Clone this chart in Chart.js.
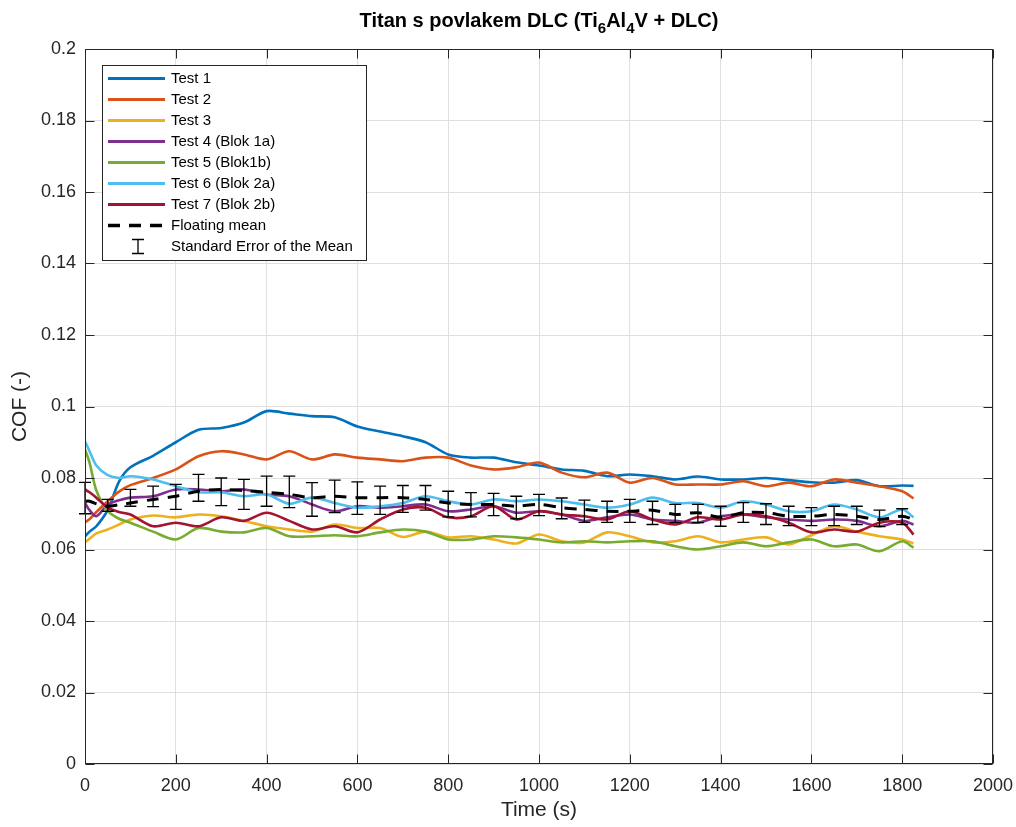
<!DOCTYPE html>
<html>
<head>
<meta charset="utf-8">
<script src="https://cdn.jsdelivr.net/npm/chart.js@4.4.1/dist/chart.umd.min.js"></script>
<style>
html,body{margin:0;padding:0;background:#fff;}
#wrap{width:1016px;height:827px;position:relative;}
</style>
</head>
<body>
<div id="wrap"><canvas id="c" width="1016" height="827"></canvas></div>
<script>
// ---- data ----
const time = [0,10,25,50,75,100,150,200,250,300,350,400,450,500,550,600,650,700,750,800,850,900,950,1000,1050,1100,1150,1200,1250,1300,1350,1400,1450,1500,1550,1600,1650,1700,1750,1800,1825];

const test1 = [0.0637,0.065,0.0665,0.071,0.079,0.083,0.0862,0.090,0.0935,0.094,0.0955,0.0987,0.098,0.0973,0.097,0.0944,0.093,0.0917,0.090,0.0866,0.0857,0.0857,0.0844,0.0835,0.0824,0.082,0.0805,0.081,0.0805,0.0796,0.0804,0.0796,0.0796,0.080,0.0794,0.0788,0.0787,0.0794,0.0777,0.0779,0.0778];
const test2 = [0.0676,0.0685,0.0705,0.0735,0.0762,0.078,0.080,0.0824,0.0861,0.0875,0.0866,0.0852,0.0875,0.0852,0.0866,0.0857,0.0852,0.0847,0.0857,0.0857,0.0835,0.0824,0.083,0.0843,0.0815,0.0802,0.0815,0.0787,0.080,0.0782,0.0782,0.0782,0.0791,0.0777,0.0787,0.0777,0.0796,0.0787,0.0777,0.0763,0.0743];
const test3 = [0.062,0.063,0.0645,0.0656,0.067,0.0684,0.0695,0.069,0.0698,0.0693,0.068,0.0665,0.0656,0.065,0.067,0.066,0.066,0.0635,0.065,0.0634,0.0637,0.0628,0.0617,0.0642,0.0623,0.062,0.0648,0.0637,0.062,0.0623,0.0637,0.062,0.0628,0.0634,0.0614,0.064,0.0665,0.065,0.0637,0.0628,0.0617];
const test4 = [0.073,0.071,0.0693,0.0726,0.0738,0.0745,0.0749,0.0768,0.0768,0.0763,0.0768,0.0754,0.0749,0.0726,0.0707,0.0721,0.0717,0.0721,0.0726,0.0707,0.0712,0.0721,0.0703,0.0707,0.0698,0.068,0.069,0.0698,0.0684,0.068,0.0675,0.0693,0.0698,0.069,0.0684,0.068,0.0684,0.068,0.0665,0.068,0.067];
const test5 = [0.088,0.0843,0.0765,0.0708,0.0686,0.0675,0.065,0.0628,0.066,0.065,0.0648,0.066,0.0637,0.0637,0.064,0.0637,0.0648,0.0656,0.065,0.0628,0.0628,0.0637,0.0634,0.0628,0.062,0.0623,0.062,0.0623,0.0623,0.0609,0.060,0.0609,0.062,0.0609,0.062,0.0628,0.0609,0.0614,0.0595,0.0623,0.0605];
const test6 = [0.0903,0.0875,0.0835,0.0808,0.080,0.0805,0.0796,0.0777,0.076,0.076,0.0749,0.0754,0.0728,0.0745,0.073,0.0717,0.0721,0.073,0.0749,0.0735,0.0726,0.074,0.0735,0.074,0.0735,0.0726,0.0717,0.0726,0.0745,0.073,0.073,0.0717,0.0735,0.0726,0.0707,0.0707,0.0726,0.0712,0.069,0.0712,0.069];
const test7 = [0.0768,0.076,0.0745,0.0717,0.0705,0.0698,0.0665,0.0675,0.0665,0.069,0.068,0.0703,0.068,0.0656,0.0665,0.0648,0.0684,0.0712,0.0717,0.069,0.0693,0.0721,0.0684,0.0707,0.0698,0.0693,0.0684,0.0707,0.0684,0.067,0.069,0.0684,0.0698,0.0693,0.0675,0.0648,0.0656,0.065,0.0675,0.0675,0.0642];
const floatingMean = [0.0735,0.0735,0.0728,0.0721,0.0725,0.073,0.074,0.0749,0.0763,0.0768,0.0765,0.076,0.0754,0.0745,0.0749,0.0745,0.0745,0.0745,0.074,0.073,0.0726,0.0726,0.0721,0.0726,0.0717,0.0712,0.0707,0.0707,0.071,0.0698,0.0703,0.069,0.0703,0.0703,0.0693,0.0693,0.0698,0.0693,0.0684,0.0693,0.0684];

const errTime = [0,50,100,150,200,250,300,350,400,450,500,550,600,650,700,750,800,850,900,950,1000,1050,1100,1150,1200,1250,1300,1350,1400,1450,1500,1550,1600,1650,1700,1750,1800];
const errLow  = [0.0700,0.0707,0.0721,0.0720,0.0712,0.0735,0.0723,0.0712,0.0721,0.0717,0.0693,0.0703,0.0698,0.0698,0.0704,0.0710,0.0691,0.0691,0.0695,0.0686,0.0695,0.0686,0.0676,0.0676,0.0676,0.0670,0.0675,0.0675,0.0665,0.0676,0.0670,0.0667,0.0667,0.0667,0.0670,0.0664,0.0670];
const errHigh = [0.0788,0.0740,0.0768,0.0777,0.0782,0.0810,0.0800,0.0796,0.0805,0.0805,0.0787,0.0794,0.0789,0.0777,0.0779,0.0779,0.0763,0.0759,0.0757,0.0749,0.0754,0.0744,0.0738,0.0735,0.0740,0.0735,0.0726,0.0726,0.0721,0.0731,0.0728,0.0721,0.0717,0.0721,0.0721,0.0710,0.0714];

const seriesLabels = ['Test 1','Test 2','Test 3','Test 4 (Blok 1a)','Test 5 (Blok1b)','Test 6 (Blok 2a)','Test 7 (Blok 2b)','Floating mean'];
const errLabel = 'Standard Error of the Mean';
const xTicksMax = 2000, yTicksMax = 0.2;
const titleParts = [['Titan s povlakem DLC (Ti',false],['6',true],['Al',false],['4',true],['V + DLC)',false]];
const xTitle = 'Time (s)';
const yTitle = 'COF (-)';

// ---- styling ----
const FONT = '"Liberation Sans", Arial, Helvetica, sans-serif';
const colors = ['#0072BD','#D95319','#EDB120','#7E2F8E','#77AC30','#4DBEEE','#A2142F','#000000'];
const DASH = [12,9];

const seriesData = [test1,test2,test3,test4,test5,test6,test7,floatingMean];
const datasets = seriesData.map((arr,k)=>({
  label: seriesLabels[k],
  data: time.map((t,i)=>({x:t,y:arr[i]})),
  borderColor: colors[k],
  backgroundColor: colors[k],
  borderWidth: k===7 ? 3 : 2.6,
  borderDash: k===7 ? DASH : [],
  pointRadius: 0,
  tension: 0.3,
  fill: false,
  order: 10-k
}));

const decor = {
  id:'matlabDecor',
  afterDatasetsDraw(chart){
    const {ctx, scales:{x,y}, chartArea:ca} = chart;
    ctx.save();
    // error bars
    ctx.strokeStyle='#000'; ctx.lineWidth=1.3; ctx.setLineDash([]);
    errTime.forEach((t,i)=>{
      const px = x.getPixelForValue(t), y1 = y.getPixelForValue(errLow[i]), y2 = y.getPixelForValue(errHigh[i]);
      ctx.beginPath();
      ctx.moveTo(px,y1); ctx.lineTo(px,y2);
      ctx.moveTo(px-6,y1); ctx.lineTo(px+6,y1);
      ctx.moveTo(px-6,y2); ctx.lineTo(px+6,y2);
      ctx.stroke();
    });
    // axes box + inward ticks
    ctx.strokeStyle='#262626'; ctx.lineWidth=1;
    const L=Math.round(ca.left)+0.5, R=Math.round(ca.right)-0.5, T=Math.round(ca.top)+0.5, B=Math.round(ca.bottom)-0.5;
    ctx.strokeRect(L,T,R-L,B-T);
    const tl=9;
    ctx.beginPath();
    x.ticks.forEach(tk=>{ const px=Math.round(x.getPixelForValue(tk.value))+0.5; ctx.moveTo(px,B); ctx.lineTo(px,B-tl); ctx.moveTo(px,T); ctx.lineTo(px,T+tl); });
    y.ticks.forEach(tk=>{ const py=Math.round(y.getPixelForValue(tk.value))+0.5; ctx.moveTo(L,py); ctx.lineTo(L+tl,py); ctx.moveTo(R,py); ctx.lineTo(R-tl,py); });
    ctx.stroke();
    // legend
    ctx.font = '15px '+FONT;
    const rows = seriesLabels.length+1;
    let maxW = ctx.measureText(errLabel).width;
    seriesLabels.forEach(l=>{maxW=Math.max(maxW,ctx.measureText(l).width);});
    const bx=102.5, by=65.5, textX=171, rowH=21, firstY=78.5;
    const bw=Math.max(264, textX+maxW+8-bx), bh=195;
    ctx.fillStyle='#fff'; ctx.fillRect(bx,by,bw,bh);
    ctx.strokeStyle='#262626'; ctx.lineWidth=1; ctx.strokeRect(bx,by,bw,bh);
    ctx.textBaseline='middle'; ctx.textAlign='left';
    chart.data.datasets.forEach((ds,k)=>{
      const yy=firstY+k*rowH;
      ctx.beginPath(); ctx.strokeStyle=ds.borderColor; ctx.lineWidth=ds.borderWidth+0.4;
      ctx.setLineDash(ds.borderDash||[]);
      ctx.moveTo(108,yy); ctx.lineTo(165,yy); ctx.stroke();
      ctx.setLineDash([]);
      ctx.fillStyle='#000'; ctx.fillText(ds.label,textX,yy+0.5);
    });
    const ey=firstY+(rows-1)*rowH;
    ctx.strokeStyle='#000'; ctx.lineWidth=1.3;
    ctx.beginPath();
    ctx.moveTo(138,ey-7); ctx.lineTo(138,ey+7);
    ctx.moveTo(132,ey-7); ctx.lineTo(144,ey-7);
    ctx.moveTo(132,ey+7); ctx.lineTo(144,ey+7);
    ctx.stroke();
    ctx.fillStyle='#000'; ctx.fillText(errLabel,textX,ey+0.5);
    // title with subscripts
    const cx=(ca.left+ca.right)/2, base=27;
    const fMain='bold 20px '+FONT, fSub='bold 15px '+FONT;
    let total=0;
    titleParts.forEach(([t,s])=>{ctx.font=s?fSub:fMain; total+=ctx.measureText(t).width;});
    let xx=cx-total/2;
    ctx.textBaseline='alphabetic'; ctx.fillStyle='#000';
    titleParts.forEach(([t,s])=>{ctx.font=s?fSub:fMain; ctx.fillText(t,xx,s?base+6:base); xx+=ctx.measureText(t).width;});
    ctx.restore();
  }
};

new Chart(document.getElementById('c'),{
  type:'line',
  data:{datasets},
  options:{
    responsive:false,
    animation:false,
    devicePixelRatio:1,
    layout:{padding:{left:0,right:23,top:49,bottom:0}},
    plugins:{legend:{display:false},title:{display:false},tooltip:{enabled:false}},
    scales:{
      x:{
        type:'linear', min:0, max:xTicksMax,
        ticks:{stepSize:200, color:'#262626', font:{size:18,family:FONT}, padding:11, maxRotation:0, autoSkip:false,
          callback:(v)=>String(Math.round(v))},
        grid:{color:'#dfdfdf', drawTicks:false},
        border:{display:false},
        title:{display:true, text:xTitle, color:'#262626', font:{size:21,family:FONT}, padding:{top:0,bottom:4}},
        afterFit(s){s.height=63; s.paddingLeft=0; s.paddingRight=0;}
      },
      y:{
        type:'linear', min:0, max:yTicksMax,
        ticks:{stepSize:0.02, color:'#262626', font:{size:18,family:FONT}, padding:9,
          callback:(v)=>String(parseFloat(Number(v).toFixed(2)))},
        grid:{color:'#dfdfdf', drawTicks:false},
        border:{display:false},
        title:{display:true, text:yTitle, color:'#262626', font:{size:21,family:FONT}, padding:{top:8,bottom:0}},
        afterFit(s){s.width=85; s.paddingTop=0; s.paddingBottom=0;}
      }
    }
  },
  plugins:[decor]
});
</script>
</body>
</html>
